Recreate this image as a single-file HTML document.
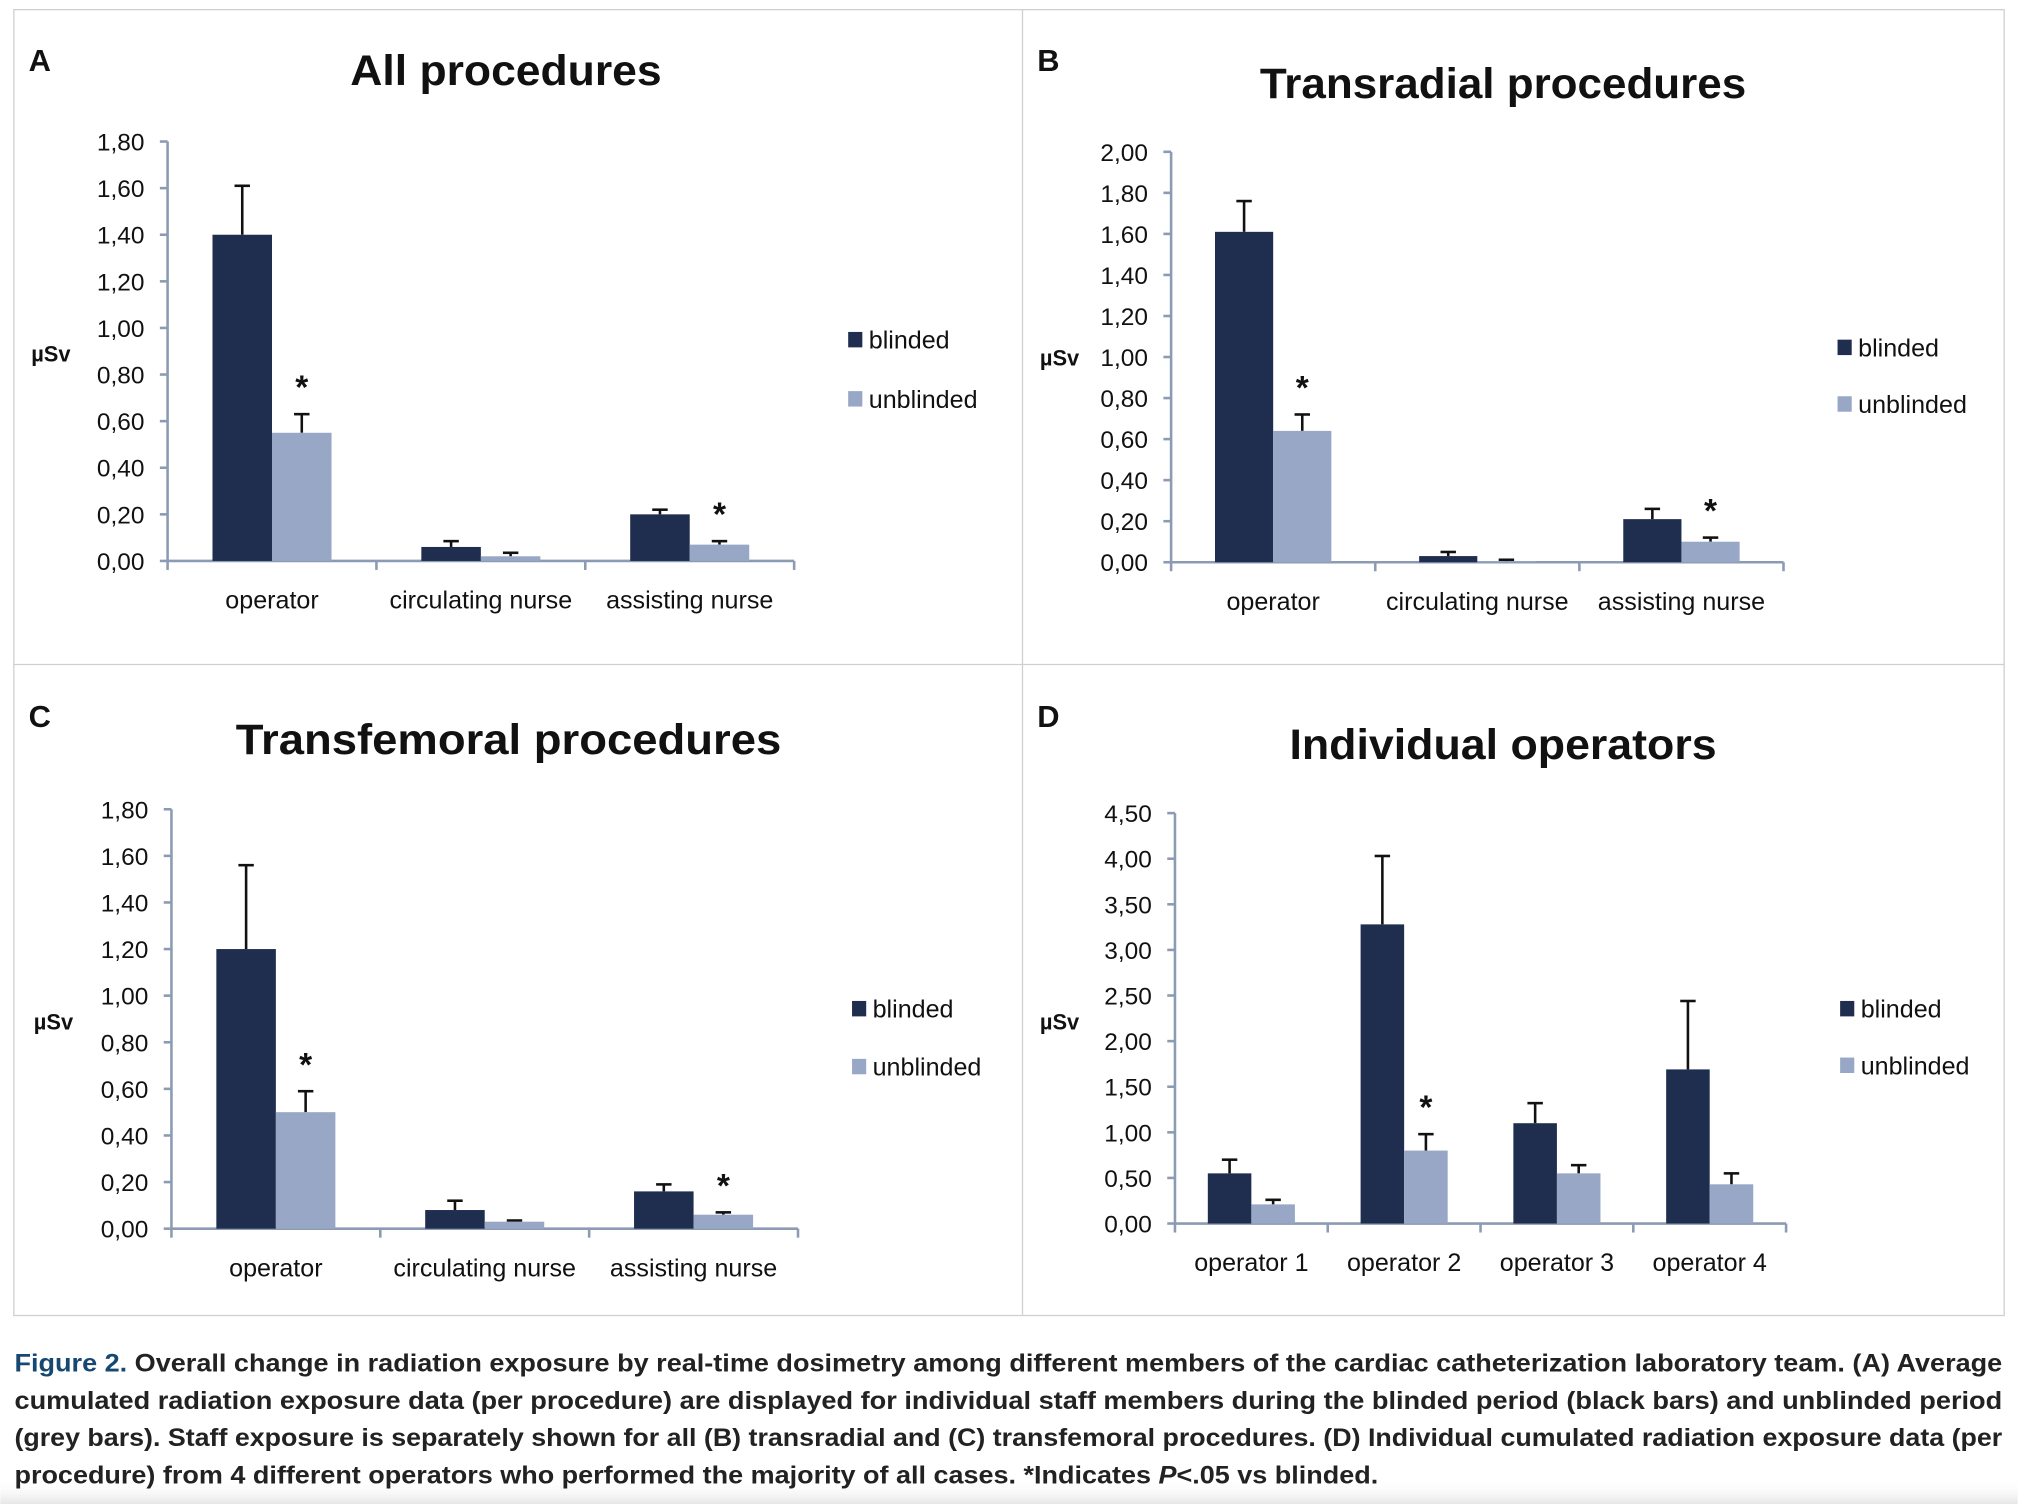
<!DOCTYPE html>
<html><head><meta charset="utf-8">
<style>
html,body{margin:0;padding:0;background:#fff;width:2018px;height:1504px;overflow:hidden}
svg{display:block}
</style></head>
<body>
<svg id="fig" width="2018" height="1504" viewBox="0 0 1568 1169" xmlns="http://www.w3.org/2000/svg" font-family="'Liberation Sans', 'DejaVu Sans', sans-serif">
  <defs>
    <linearGradient id="fade" x1="0" y1="0" x2="0" y2="1">
      <stop offset="0" stop-color="#ffffff" stop-opacity="0"/>
      <stop offset="1" stop-color="#e6e6e6" stop-opacity="1"/>
    </linearGradient>
  </defs>
  <rect x="0" y="0" width="1568" height="1169" fill="#fff"/>
  <rect x="0" y="1150" width="1568" height="19" fill="url(#fade)"/>
  <rect x="10.5" y="7.5" width="1547" height="1015" fill="none" stroke="#cfcfcf" stroke-width="1"/>
  <line x1="794.5" y1="7" x2="794.5" y2="1022" stroke="#cfcfcf" stroke-width="1"/>
  <line x1="10" y1="516.5" x2="1557" y2="516.5" stroke="#cfcfcf" stroke-width="1"/>
  <g id="charts"></g>
  <g font-size="19.5" font-weight="bold" fill="#222">
    <text x="11" y="1066" textLength="1545" lengthAdjust="spacingAndGlyphs"><tspan fill="#174872">Figure 2.</tspan> Overall change in radiation exposure by real-time dosimetry among different members of the cardiac catheterization laboratory team. (A) Average</text>
    <text x="11" y="1095" textLength="1545" lengthAdjust="spacingAndGlyphs">cumulated radiation exposure data (per procedure) are displayed for individual staff members during the blinded period (black bars) and unblinded period</text>
    <text x="11" y="1124" textLength="1545" lengthAdjust="spacingAndGlyphs">(grey bars). Staff exposure is separately shown for all (B) transradial and (C) transfemoral procedures. (D) Individual cumulated radiation exposure data (per</text>
    <text x="11" y="1153" textLength="1060" lengthAdjust="spacingAndGlyphs">procedure) from 4 different operators who performed the majority of all cases. *Indicates <tspan font-style="italic">P</tspan>&lt;.05 vs blinded.</text>
  </g>
</svg>
<script>
// Panel A
const catsA = ["operator", "circulating nurse", "assisting nurse"];
const blindA = [1.40, 0.06, 0.20];
const unblA = [0.55, 0.02, 0.07];
const errBA = [1.61, 0.085, 0.22];
const errUA = [0.63, 0.035, 0.085];
const ticksA = ["0,00","0,20","0,40","0,60","0,80","1,00","1,20","1,40","1,60","1,80"];
// Panel B
const catsB = ["operator", "circulating nurse", "assisting nurse"];
const blindB = [1.61, 0.03, 0.21];
const unblB = [0.64, 0.005, 0.10];
const errBB = [1.76, 0.05, 0.26];
const errUB = [0.72, 0.012, 0.12];
const ticksB = ["0,00","0,20","0,40","0,60","0,80","1,00","1,20","1,40","1,60","1,80","2,00"];
// Panel C
const catsC = ["operator", "circulating nurse", "assisting nurse"];
const blindC = [1.20, 0.08, 0.16];
const unblC = [0.50, 0.03, 0.06];
const errBC = [1.56, 0.12, 0.19];
const errUC = [0.59, 0.035, 0.07];
const ticksC = ["0,00","0,20","0,40","0,60","0,80","1,00","1,20","1,40","1,60","1,80"];
// Panel D
const catsD = ["operator 1", "operator 2", "operator 3", "operator 4"];
const blindD = [0.55, 3.28, 1.10, 1.69];
const unblD = [0.21, 0.80, 0.55, 0.43];
const errBD = [0.70, 4.03, 1.32, 2.44];
const errUD = [0.26, 0.98, 0.64, 0.55];
const ticksD = ["0,00","0,50","1,00","1,50","2,00","2,50","3,00","3,50","4,00","4,50"];
const starsA = [0, 2]; // categories whose unblinded bar is starred
const starsB = [0, 2];
const starsC = [0, 2];
const starsD = [1];

const NS = "http://www.w3.org/2000/svg";
const root = document.getElementById("charts");
function mk(tag, attrs, parent){
  const e = document.createElementNS(NS, tag);
  for (const k in attrs) e.setAttribute(k, attrs[k]);
  (parent||root).appendChild(e);
  return e;
}
function tx(parent, x, y, s, size, anchor, weight){
  const t = mk("text", {x:x, y:y, "font-size":size, "text-anchor":anchor||"start", "font-weight":weight||"normal", fill:"#111"}, parent);
  t.textContent = s;
  return t;
}

function panel(cfg){
  const g = mk("g", {});
  
  
  const {x0, x1, yTop, yBot, maxV, ticks, cats, blind, unbl, errB, errU, stars} = cfg;
  const ys = v => yBot - (v / maxV) * (yBot - yTop);
  const axC = "#8c9bb3";
  const L = tx(g, cfg.letterX, cfg.letterY, cfg.letter, 24, "start", "bold");
  
  
  const T = tx(g, cfg.titleX, cfg.titleY, cfg.title, 33, "middle", "bold");
  
  
  T.setAttribute("textLength", cfg.titleW);
  T.setAttribute("lengthAdjust", "spacingAndGlyphs");
  const U = tx(g, cfg.unitX, cfg.unitY, "µSv", 17, "start", "bold");
  
  
  const ya = mk("line", {x1:x0, y1:yTop, x2:x0, y2:yBot, stroke:axC, "stroke-width":2}, g);
  
  
  const step = maxV / (ticks.length - 1);
  ticks.forEach((lab, i) => {
    const y = ys(i * step);
    mk("line", {x1:x0-6, y1:y, x2:x0, y2:y, stroke:axC, "stroke-width":2}, g);
    const t = tx(g, x0 - 18, y + 7, lab, 19, "end");
    
    
  });
  const xa = mk("line", {x1:x0, y1:yBot, x2:x1, y2:yBot, stroke:axC, "stroke-width":2}, g);
  
  
  const n = cats.length;
  const cw = (x1 - x0) / n;
  for (let i = 0; i <= n; i++) {
    mk("line", {x1:x0 + i*cw, y1:yBot, x2:x0 + i*cw, y2:yBot + 7, stroke:axC, "stroke-width":2}, g);
  }
  const bw = cw * cfg.barFrac;
  cats.forEach((c, i) => {
    const cx = x0 + (i + 0.5) * cw;
    const t = tx(g, cx, yBot + 37, c, 19.5, "middle");
    
    
    const bx = cx - bw;
    const eb = mk("line", {x1:bx + bw/2, y1:ys(errB[i]), x2:bx + bw/2, y2:ys(blind[i]), stroke:"#111", "stroke-width":2}, g);
    
    
    mk("line", {x1:bx + bw/2 - 6, y1:ys(errB[i]), x2:bx + bw/2 + 6, y2:ys(errB[i]), stroke:"#111", "stroke-width":2}, g);
    const rb = mk("rect", {x:bx, y:ys(blind[i]), width:bw, height:yBot - ys(blind[i]), fill:"#1f2e4f"}, g);
    
    
    const ux = cx;
    const eu = mk("line", {x1:ux + bw/2, y1:ys(errU[i]), x2:ux + bw/2, y2:ys(unbl[i]), stroke:"#111", "stroke-width":2}, g);
    
    
    mk("line", {x1:ux + bw/2 - 6, y1:ys(errU[i]), x2:ux + bw/2 + 6, y2:ys(errU[i]), stroke:"#111", "stroke-width":2}, g);
    const ru = mk("rect", {x:ux, y:ys(unbl[i]), width:bw, height:yBot - ys(unbl[i]), fill:"#97a7c5"}, g);
    
    
    if (stars.indexOf(i) >= 0) {
      const s = tx(g, ux + bw/2, ys(errU[i]) - 12, "*", 26, "middle", "bold");
      
      
    }
  });
  const lg = mk("g", {}, g);
  
  
  [["blinded", "#1f2e4f", cfg.legY1], ["unblinded", "#97a7c5", cfg.legY2]].forEach(([lab, col, y]) => {
    const e = mk("g", {}, lg);
    
    
    mk("rect", {x:cfg.legX, y:y - 12, width:11, height:12, fill:col}, e);
    tx(e, cfg.legX + 16, y + 1, lab, 19.5, "start");
  });
}

panel({name:"panel-a-all-procedures", letter:"A", letterX:22, letterY:55, title:"All procedures", titleX:393, titleY:66, titleW:242,
  unitX:24, unitY:281, x0:130, x1:617, yTop:110, yBot:436, maxV:1.8, ticks:ticksA, cats:catsA,
  blind:blindA, unbl:unblA, errB:errBA, errU:errUA, stars:starsA, barFrac:0.285, legX:659, legY1:270, legY2:316});
panel({name:"panel-b-transradial", letter:"B", letterX:806, letterY:55, title:"Transradial procedures", titleX:1168, titleY:76, titleW:378,
  unitX:808, unitY:284, x0:910, x1:1386, yTop:118, yBot:437, maxV:2.0, ticks:ticksB, cats:catsB,
  blind:blindB, unbl:unblB, errB:errBB, errU:errUB, stars:starsB, barFrac:0.285, legX:1428, legY1:276, legY2:320});
panel({name:"panel-c-transfemoral", letter:"C", letterX:22, letterY:565, title:"Transfemoral procedures", titleX:395, titleY:586, titleW:424,
  unitX:26, unitY:800, x0:133, x1:620, yTop:629, yBot:955, maxV:1.8, ticks:ticksC, cats:catsC,
  blind:blindC, unbl:unblC, errB:errBC, errU:errUC, stars:starsC, barFrac:0.285, legX:662, legY1:790, legY2:835});
panel({name:"panel-d-individual-operators", letter:"D", letterX:806, letterY:565, title:"Individual operators", titleX:1168, titleY:590, titleW:332,
  unitX:808, unitY:800, x0:913, x1:1388, yTop:632, yBot:951, maxV:4.5, ticks:ticksD, cats:catsD,
  blind:blindD, unbl:unblD, errB:errBD, errU:errUD, stars:starsD, barFrac:0.285, legX:1430, legY1:790, legY2:834});
</script>
</body></html>
